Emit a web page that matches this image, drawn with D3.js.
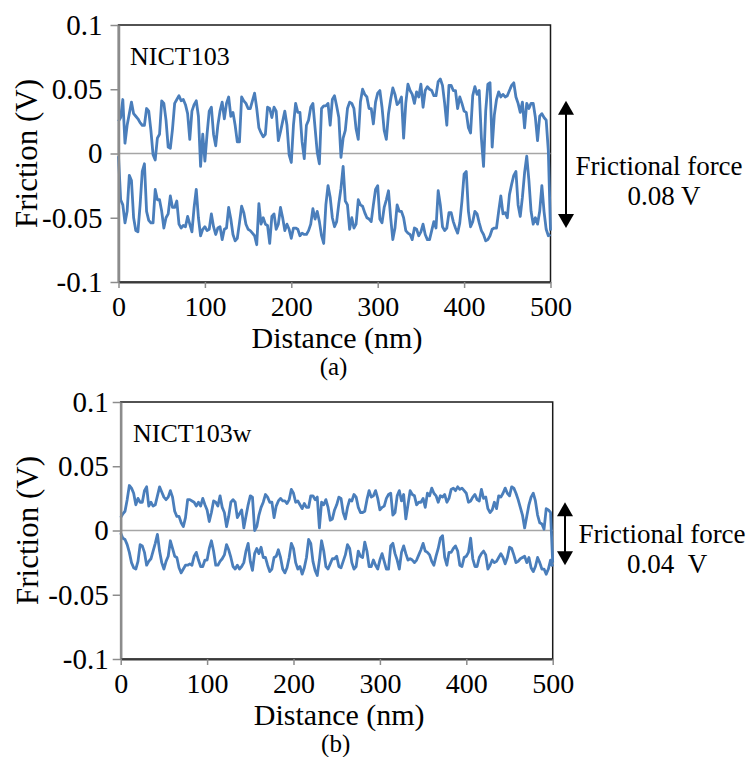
<!DOCTYPE html>
<html>
<head>
<meta charset="utf-8">
<script src="https://cdn.jsdelivr.net/npm/d3@7"></script>
<style>
  body { margin: 0; background: #fff; }
</style>
</head>
<body>
<div id="chart"></div>
<script>
const step = 2.5; // nm between samples

// friction (V), trace and retrace, every 2.5 nm
const upperA = [
  0.025, 0.028, 0.042, 0.008, 0.022, 0.031, 0.040, 0.031, 0.029, 0.027,
  0.024, 0.022, 0.022, 0.035, 0.033, 0.018, -0.001, -0.005, 0.012, 0.015,
  0.041, 0.039, 0.026, 0.005, 0.004, 0.019, 0.039, 0.042, 0.045, 0.041,
  0.042, 0.038, 0.031, 0.011, 0.033, 0.038, 0.041, 0.029, -0.010, 0.015,
  -0.006, 0.015, 0.033, 0.036, 0.015, 0.006, 0.022, 0.033, 0.040, 0.027,
  0.039, 0.044, 0.029, 0.032, 0.022, 0.009, 0.009, 0.044, 0.041, 0.039,
  0.035, 0.035, 0.041, 0.047, 0.035, 0.020, 0.016, 0.013, 0.015, 0.036,
  0.035, 0.028, 0.036, 0.033, 0.010, 0.017, 0.025, 0.033, 0.022, -0.001,
  -0.007, 0.022, 0.039, 0.032, 0.032, 0.009, -0.004, 0.022, 0.026, 0.036,
  0.039, 0.020, 0.001, -0.008, 0.035, 0.037, 0.037, 0.039, 0.022, 0.042,
  0.045, 0.037, 0.028, -0.003, 0.012, 0.018, 0.035, 0.040, 0.039, 0.035,
  0.019, 0.011, 0.040, 0.050, 0.046, 0.044, 0.035, 0.035, 0.023, 0.040,
  0.047, 0.049, 0.036, 0.018, 0.011, 0.031, 0.042, 0.051, 0.046, 0.038,
  0.040, 0.044, 0.012, 0.039, 0.054, 0.049, 0.046, 0.039, 0.048, 0.044,
  0.054, 0.036, 0.049, 0.052, 0.050, 0.049, 0.045, 0.045, 0.056, 0.058,
  0.053, 0.039, 0.022, 0.053, 0.053, 0.049, 0.049, 0.035, 0.044, 0.039,
  0.033, 0.032, 0.020, 0.016, 0.045, 0.052, 0.046, 0.049, 0.012, -0.010,
  0.033, 0.054, 0.055, 0.005, 0.030, 0.042, 0.048, 0.044, 0.046, 0.044,
  0.045, 0.049, 0.053, 0.055, 0.044, 0.039, 0.032, 0.040, 0.020, 0.039,
  0.035, 0.039, 0.039, 0.028, 0.010, 0.029, 0.031, 0.028, 0.026, 0.002,
  -0.060
];
const lowerA = [
  -0.002, -0.036, -0.040, -0.054, -0.045, -0.017, -0.021, -0.050, -0.060, -0.061,
  -0.040, -0.014, -0.008, -0.045, -0.052, -0.054, -0.054, -0.028, -0.036, -0.036,
  -0.045, -0.058, -0.050, -0.047, -0.033, -0.042, -0.042, -0.037, -0.055, -0.058,
  -0.056, -0.057, -0.049, -0.055, -0.061, -0.042, -0.028, -0.050, -0.064, -0.059,
  -0.057, -0.060, -0.059, -0.047, -0.057, -0.063, -0.058, -0.057, -0.067, -0.059,
  -0.058, -0.042, -0.051, -0.063, -0.068, -0.066, -0.054, -0.041, -0.046, -0.055,
  -0.059, -0.060, -0.062, -0.064, -0.071, -0.039, -0.055, -0.050, -0.055, -0.056,
  -0.070, -0.049, -0.047, -0.059, -0.055, -0.042, -0.050, -0.060, -0.055, -0.059,
  -0.066, -0.058, -0.058, -0.059, -0.064, -0.062, -0.063, -0.063, -0.060, -0.055,
  -0.043, -0.051, -0.045, -0.053, -0.064, -0.070, -0.040, -0.025, -0.034, -0.050,
  -0.057, -0.053, -0.039, -0.027, -0.010, -0.037, -0.040, -0.059, -0.050, -0.058,
  -0.055, -0.036, -0.040, -0.041, -0.046, -0.050, -0.051, -0.053, -0.040, -0.028,
  -0.025, -0.051, -0.054, -0.042, -0.036, -0.029, -0.050, -0.067, -0.058, -0.040,
  -0.045, -0.045, -0.050, -0.060, -0.062, -0.063, -0.067, -0.058, -0.059, -0.064,
  -0.061, -0.055, -0.063, -0.067, -0.067, -0.060, -0.053, -0.058, -0.029, -0.040,
  -0.057, -0.060, -0.058, -0.046, -0.046, -0.053, -0.058, -0.062, -0.054, -0.037,
  -0.016, -0.014, -0.045, -0.057, -0.053, -0.045, -0.047, -0.054, -0.060, -0.063,
  -0.068, -0.067, -0.064, -0.059, -0.058, -0.058, -0.045, -0.033, -0.047, -0.046,
  -0.050, -0.032, -0.024, -0.017, -0.014, -0.040, -0.049, -0.034, -0.015, -0.002,
  -0.021, -0.045, -0.055, -0.050, -0.055, -0.045, -0.025, -0.045, -0.059, -0.064,
  -0.063
];
const upperB = [
  0.010, 0.013, 0.015, 0.024, 0.035, 0.033, 0.029, 0.020, 0.025, 0.022,
  0.022, 0.031, 0.034, 0.019, 0.022, 0.019, 0.020, 0.027, 0.034, 0.030,
  0.026, 0.024, 0.026, 0.031, 0.026, 0.015, 0.011, 0.011, 0.006, 0.003,
  0.010, 0.024, 0.024, 0.023, 0.022, 0.019, 0.022, 0.019, 0.025, 0.020,
  0.016, 0.007, 0.014, 0.023, 0.022, 0.019, 0.027, 0.018, 0.014, 0.003,
  0.011, 0.022, 0.024, 0.022, 0.010, 0.013, 0.016, 0.002, 0.011, 0.020,
  0.027, 0.026, 0.000, 0.003, 0.012, 0.018, 0.022, 0.028, 0.026, 0.022,
  0.022, 0.010, 0.019, 0.023, 0.025, 0.023, 0.023, 0.021, 0.024, 0.032,
  0.029, 0.022, 0.023, 0.020, 0.017, 0.021, 0.018, 0.018, 0.027, 0.027,
  0.024, 0.026, 0.002, 0.022, 0.020, 0.024, 0.018, 0.008, 0.009, 0.016,
  0.020, 0.026, 0.025, 0.014, 0.009, 0.018, 0.024, 0.023, 0.028, 0.026,
  0.018, 0.014, 0.014, 0.015, 0.024, 0.031, 0.026, 0.027, 0.031, 0.025,
  0.016, 0.018, 0.019, 0.025, 0.028, 0.029, 0.012, 0.014, 0.027, 0.031,
  0.023, 0.028, 0.009, 0.020, 0.031, 0.028, 0.027, 0.020, 0.022, 0.022,
  0.025, 0.018, 0.029, 0.027, 0.033, 0.029, 0.027, 0.022, 0.027, 0.026,
  0.028, 0.022, 0.025, 0.032, 0.033, 0.031, 0.034, 0.032, 0.033, 0.031,
  0.029, 0.022, 0.023, 0.026, 0.028, 0.024, 0.023, 0.032, 0.025, 0.026,
  0.017, 0.014, 0.016, 0.022, 0.017, 0.027, 0.026, 0.029, 0.033, 0.029,
  0.027, 0.034, 0.033, 0.029, 0.024, 0.018, 0.012, 0.002, 0.011, 0.020,
  0.026, 0.029, 0.023, 0.012, 0.006, 0.005, 0.001, 0.017, 0.016, 0.014,
  -0.025
];
const lowerB = [
  -0.002, -0.006, -0.007, -0.011, -0.017, -0.025, -0.029, -0.030, -0.024, -0.011,
  -0.012, -0.017, -0.027, -0.024, -0.022, -0.016, -0.010, -0.003, -0.016, -0.025,
  -0.030, -0.024, -0.020, -0.008, -0.014, -0.020, -0.021, -0.029, -0.033, -0.030,
  -0.027, -0.027, -0.026, -0.027, -0.020, -0.017, -0.023, -0.028, -0.028, -0.023,
  -0.023, -0.014, -0.008, -0.016, -0.027, -0.027, -0.024, -0.022, -0.019, -0.011,
  -0.015, -0.021, -0.028, -0.030, -0.027, -0.030, -0.028, -0.025, -0.016, -0.010,
  -0.024, -0.031, -0.018, -0.014, -0.018, -0.013, -0.021, -0.021, -0.027, -0.032,
  -0.030, -0.021, -0.020, -0.015, -0.021, -0.030, -0.033, -0.029, -0.021, -0.010,
  -0.014, -0.025, -0.030, -0.028, -0.034, -0.029, -0.021, -0.007, -0.010, -0.024,
  -0.031, -0.035, -0.023, -0.008, -0.016, -0.028, -0.030, -0.026, -0.022, -0.022,
  -0.020, -0.028, -0.029, -0.024, -0.019, -0.011, -0.014, -0.025, -0.030, -0.028,
  -0.016, -0.020, -0.021, -0.009, -0.016, -0.028, -0.028, -0.023, -0.027, -0.030,
  -0.023, -0.018, -0.024, -0.030, -0.030, -0.012, -0.010, -0.018, -0.023, -0.030,
  -0.017, -0.012, -0.018, -0.023, -0.022, -0.023, -0.025, -0.023, -0.019, -0.015,
  -0.010, -0.016, -0.017, -0.019, -0.024, -0.027, -0.020, -0.014, -0.006, -0.004,
  -0.021, -0.027, -0.017, -0.017, -0.014, -0.012, -0.016, -0.027, -0.028, -0.021,
  -0.020, -0.017, -0.006, -0.022, -0.028, -0.028, -0.021, -0.018, -0.016, -0.019,
  -0.030, -0.027, -0.023, -0.025, -0.024, -0.021, -0.018, -0.021, -0.026, -0.021,
  -0.013, -0.014, -0.019, -0.025, -0.024, -0.022, -0.021, -0.020, -0.025, -0.021,
  -0.029, -0.032, -0.028, -0.021, -0.025, -0.030, -0.030, -0.034, -0.030, -0.023,
  -0.028
];

const xTicks = [0, 100, 200, 300, 400, 500];
const yTicks = [0.1, 0.05, 0, -0.05, -0.1];
const yTickLabels = ["0.1", "0.05", "0", "-0.05", "-0.1"];
const sampleNames = ["NICT103", "NICT103w"];
const panelTags = ["(a)", "(b)"];
const forceText = ["0.08 V", "0.04\u00a0\u00a0V"];
// extent of the double arrow, in volts
const forceSpan = [[0.041, -0.058], [0.022, -0.027]];

const width = 752, height = 757;
const pw = 432, ph = 257;
const blue = "#4a7ebb";
const grey = "#8c8c8c";
const serif = "'Liberation Serif', 'Times New Roman', Times, serif";

const svg = d3.select("#chart")
  .append("svg")
  .attr("width", width)
  .attr("height", height);

svg.append("rect").attr("width", width).attr("height", height).attr("fill", "#fff");

function label(sel) {
  return sel.style("font-family", serif).attr("fill", "#000");
}

const panels = [
  {left: 118.5, top: 25, upper: upperA, lower: lowerA, labelGap: 16, yTitleX: 37,
   arrowX: 566, textX: 659, textY: 175, text2X: 664, text2Y: 205},
  {left: 120.7, top: 402, upper: upperB, lower: lowerB, labelGap: 12, yTitleX: 38,
   arrowX: 565, textX: 662, textY: 543, text2X: 667, text2Y: 573}
];

panels.forEach(function(p, k) {
  const g = svg.append("g")
    .attr("transform", `translate(${p.left},${p.top})`);

  const x = d3.scaleLinear().domain([0, 500]).range([0, pw]);
  const y = d3.scaleLinear().domain([-0.1, 0.1]).range([ph, 0]);

  // frame
  g.append("rect")
    .attr("width", pw)
    .attr("height", ph)
    .attr("fill", "none")
    .attr("stroke", "#1a1a1a")
    .attr("stroke-width", 1.5);

  // zero line
  g.append("line")
    .attr("x1", 0).attr("x2", pw)
    .attr("y1", y(0)).attr("y2", y(0))
    .attr("stroke", "#a6a6a6")
    .attr("stroke-width", 1.5);

  const line = d3.line()
    .x((d, i) => x(i * step))
    .y(d => y(d));

  [p.upper, p.lower].forEach(function(series) {
    g.append("path")
      .datum(series)
      .attr("fill", "none")
      .attr("stroke", blue)
      .attr("stroke-width", 2.8)
      .attr("stroke-linejoin", "round")
      .attr("d", line);
  });

  // y axis
  const yAxis = g.append("g")
    .call(d3.axisLeft(y)
      .tickValues(yTicks)
      .tickSize(8)
      .tickSizeOuter(0)
      .tickPadding(p.labelGap - 8)
      .tickFormat((d, i) => yTickLabels[i]));
  yAxis.select(".domain").attr("stroke", grey).attr("stroke-width", 2.5);
  yAxis.selectAll(".tick line").attr("stroke", grey).attr("stroke-width", 1.5);
  label(yAxis.selectAll(".tick text")).style("font-size", "29px");

  // x axis
  const xAxis = g.append("g")
    .attr("transform", `translate(0,${ph})`)
    .call(d3.axisBottom(x)
      .tickValues(xTicks)
      .tickSize(6)
      .tickSizeOuter(0)
      .tickPadding(8));
  xAxis.select(".domain").attr("stroke", "#3a3a3a").attr("stroke-width", 2);
  xAxis.selectAll(".tick line").attr("stroke", grey).attr("stroke-width", 1.5);
  label(xAxis.selectAll(".tick text")).style("font-size", "28px");

  // titles
  label(g.append("text"))
    .attr("x", pw / 2 + 2.5)
    .attr("y", ph + 66)
    .attr("text-anchor", "middle")
    .style("font-size", "30px")
    .text("Distance (nm)");

  label(g.append("text"))
    .attr("x", pw / 2 - 1)
    .attr("y", ph + 93)
    .attr("text-anchor", "middle")
    .style("font-size", "25px")
    .text(panelTags[k]);

  label(svg.append("text"))
    .attr("transform", `translate(${p.yTitleX},${p.top + ph / 2}) rotate(-90)`)
    .attr("text-anchor", "middle")
    .style("font-size", "31px")
    .text("Friction (V)");

  label(g.append("text"))
    .attr("x", k === 0 ? 11.5 : 12.3)
    .attr("y", 40)
    .style("font-size", "26px")
    .text(sampleNames[k]);

  // double arrow with frictional force
  const ax = p.arrowX - p.left;
  const y1 = y(forceSpan[k][0]), y2 = y(forceSpan[k][1]);
  const head = 14, half = 8;
  g.append("line")
    .attr("x1", ax).attr("x2", ax)
    .attr("y1", y1 + head - 1).attr("y2", y2 - head + 1)
    .attr("stroke", "#000")
    .attr("stroke-width", 2);
  g.append("path")
    .attr("d", `M${ax},${y1} L${ax + half},${y1 + head} L${ax - half},${y1 + head} Z`)
    .attr("fill", "#000");
  g.append("path")
    .attr("d", `M${ax},${y2} L${ax + half},${y2 - head} L${ax - half},${y2 - head} Z`)
    .attr("fill", "#000");

  label(svg.append("text"))
    .attr("x", p.textX)
    .attr("y", p.textY)
    .attr("text-anchor", "middle")
    .style("font-size", "27px")
    .text("Frictional force");

  label(svg.append("text"))
    .attr("x", p.text2X)
    .attr("y", p.text2Y)
    .attr("text-anchor", "middle")
    .style("font-size", "27px")
    .text(forceText[k]);
});
</script>
</body>
</html>
